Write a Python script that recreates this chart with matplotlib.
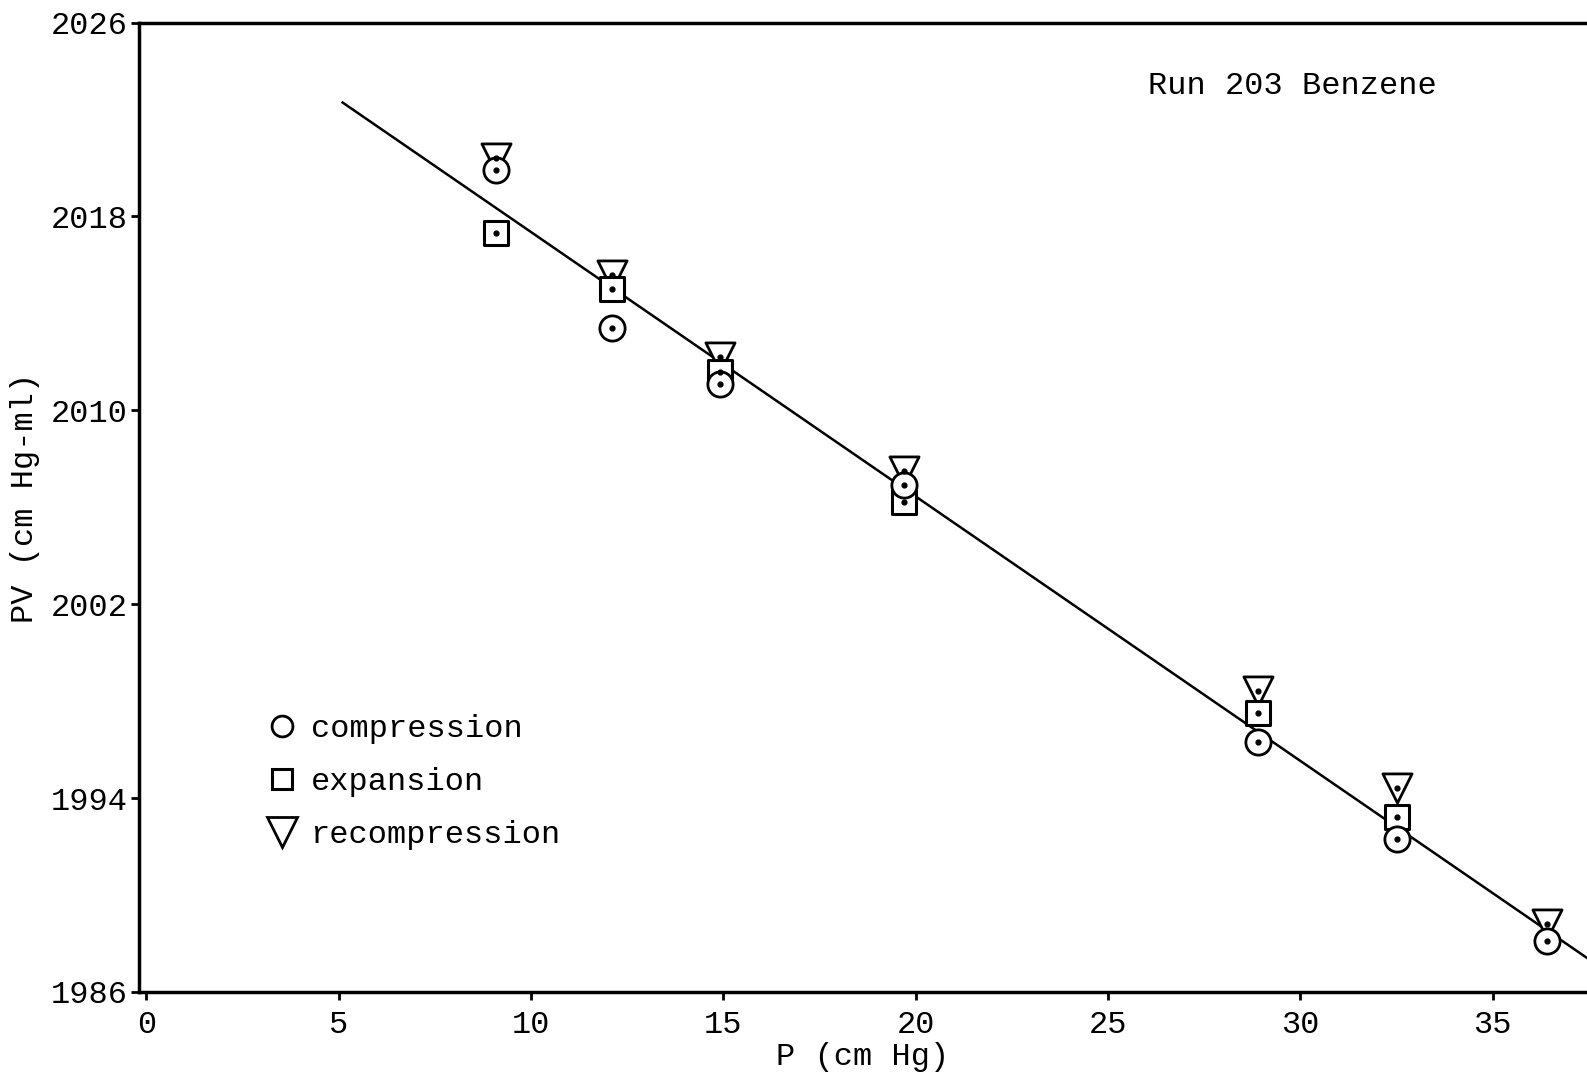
import numpy as np
import matplotlib
matplotlib.use("Agg")
import matplotlib.pyplot as plt
from matplotlib.lines import Line2D

plt.rcParams['font.family'] = ['Liberation Mono', 'DejaVu Sans Mono']

p_comp = [9.1, 12.1, 14.9, 19.7, 28.9, 32.5, 36.4]
pv_comp = [2019.9, 2013.4, 2011.1, 2006.9, 1996.3, 1992.3, 1988.1]

p_exp = [9.1, 12.1, 14.9, 19.7, 28.9, 32.5]
pv_exp = [2017.3, 2015.0, 2011.6, 2006.2, 1997.5, 1993.2]

p_rec = [9.1, 12.1, 14.9, 19.7, 28.9, 32.5, 36.4]
pv_rec = [2020.4, 2015.6, 2012.2, 2007.5, 1998.4, 1994.4, 1988.8]

# fitted line
line_p = [5.1, 37.5]
line_pv = [2022.7, 1987.35]

xticks = [0, 5, 10, 15, 20, 25, 30, 35]
yticks = [1986, 1994, 2002, 2010, 2018, 2026]

fig = plt.figure(figsize=(15.87, 10.73), dpi=100)
ax = fig.add_axes([0.0874, 0.0755, 0.9126, 0.9035])

ax.plot(line_p, line_pv, color='black', lw=1.8, zorder=2)

ax.scatter(p_rec, np.array(pv_rec), marker='v', s=440, facecolor='white',
           edgecolor='black', linewidths=2, zorder=3)
ax.scatter(p_exp, pv_exp, marker='s', s=300, facecolor='white',
           edgecolor='black', linewidths=2.2, zorder=4)
ax.scatter(p_comp, pv_comp, marker='o', s=330, facecolor='white',
           edgecolor='black', linewidths=2, zorder=5)
# center dots
for xs, ys in [(p_rec, pv_rec), (p_exp, pv_exp), (p_comp, pv_comp)]:
    ax.scatter(xs, ys, marker='o', s=12, color='black', zorder=6)

ax.set_xlim(-0.2, 37.45)
ax.set_ylim(1986, 2026)
ax.set_xticks(xticks)
ax.set_yticks(yticks)
ax.tick_params(axis='both', labelsize=23, length=6, width=2, direction='out')
ax.tick_params(axis='x', pad=7)
ax.tick_params(axis='y', pad=2)
ax.spines['right'].set_visible(False)
for s in ['left', 'bottom', 'top']:
    ax.spines[s].set_linewidth(2.5)

ax.set_xlabel('P (cm Hg)', fontsize=23)
ax.xaxis.set_label_coords(0.5, -0.052)
ax.set_ylabel('PV (cm Hg-ml)', fontsize=23)
ax.yaxis.set_label_coords(-0.068, 0.51)

ax.text(0.697, 0.935, 'Run 203 Benzene', transform=ax.transAxes, fontsize=23,
        ha='left', va='center')

handles = [
    Line2D([], [], marker='o', ls='none', mfc='white', mec='black', ms=15, mew=2),
    Line2D([], [], marker='s', ls='none', mfc='white', mec='black', ms=14, mew=2.2),
    Line2D([], [], marker='v', ls='none', mfc='white', mec='black', ms=22, mew=2),
]
ax.legend(handles, ['compression', 'expansion', 'recompression'],
          loc='lower left', bbox_to_anchor=(0.068, 0.117), frameon=False,
          fontsize=23, handletextpad=0.4, labelspacing=0.72, handlelength=1.0)

fig.savefig('out.png', dpi=100)
